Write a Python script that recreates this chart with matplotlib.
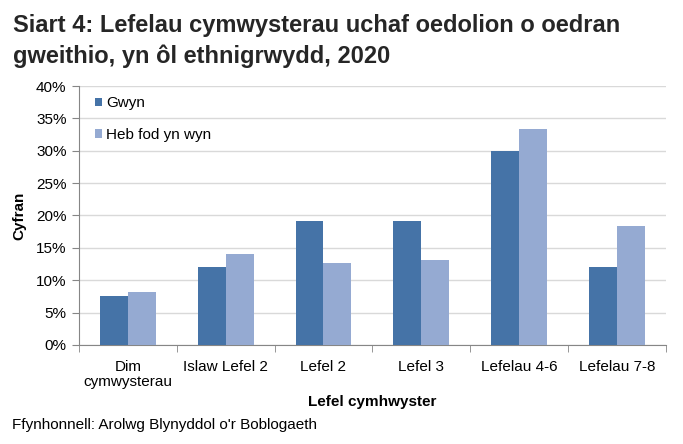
import numpy as np
import matplotlib
matplotlib.use("Agg")
import matplotlib.pyplot as plt
from matplotlib.ticker import FuncFormatter, FixedLocator

plt.rcParams['font.family'] = ['Liberation Sans', 'DejaVu Sans']

# data
categories = ["Dim\ncymwysterau", "Islaw Lefel 2", "Lefel 2", "Lefel 3",
              "Lefelau 4-6", "Lefelau 7-8"]
gwyn = [7.6, 12.0, 19.1, 19.1, 29.9, 12.1]
heb_fod_yn_wyn = [8.2, 14.1, 12.7, 13.1, 33.4, 18.4]
series_names = ["Gwyn", "Heb fod yn wyn"]

col_gwyn = "#4573A7"
col_heb = "#95AAD2"
grey = "#868686"
fs = 11

fig = plt.figure(figsize=(6.83, 4.44), dpi=100)
ax = fig.add_axes([0.1157, 0.223, 0.859, 0.5833])

x = np.arange(len(categories))
w = 0.285
ax.bar(x - w / 2, gwyn, w, color=col_gwyn, label=series_names[0], zorder=3)
ax.bar(x + w / 2, heb_fod_yn_wyn, w, color=col_heb, label=series_names[1], zorder=3)

ax.set_xlim(-0.5, len(categories) - 0.5)
ax.set_ylim(0, 40)
ax.set_yticks(np.arange(0, 41, 5))
ax.yaxis.set_major_formatter(FuncFormatter(lambda v, p: "%d%%" % v))
ax.grid(axis='y', color="#D9D9D9", linewidth=1, zorder=0)

# category labels centred, ticks on the boundaries
ax.set_xticks(x)
ax.set_xticklabels(categories, fontsize=fs)
for lab in ax.get_xticklabels():
    lab.set_linespacing(1.1)
ax.tick_params(axis='x', which='major', length=0, pad=11)
ax.xaxis.set_minor_locator(FixedLocator(np.arange(-0.5, len(categories), 1)))
ax.tick_params(axis='x', which='minor', length=5, color=grey)
ax.tick_params(axis='y', length=5, color=grey, labelsize=fs, pad=4)

for s in ['top', 'right']:
    ax.spines[s].set_visible(False)
for s in ['left', 'bottom']:
    ax.spines[s].set_color(grey)

ax.set_ylabel("Cyfran", fontsize=fs, fontweight='bold')
ax.yaxis.set_label_coords(-0.09, 0.5)
ax.set_xlabel("Lefel cymhwyster", fontsize=fs, fontweight='bold', labelpad=4)

leg = ax.legend(loc='upper left', bbox_to_anchor=(0.027, 0.96), frameon=False,
                fontsize=fs, handlelength=0.46, handleheight=0.46,
                handletextpad=0.3, labelspacing=1.15, borderaxespad=0,
                borderpad=0)

fig.text(0.019, 0.9286, "Siart 4: Lefelau cymwysterau uchaf oedolion o oedran",
         fontsize=17, fontweight='bold', va='baseline', ha='left', color="#262626")
fig.text(0.019, 0.858, "gweithio, yn ôl ethnigrwydd, 2020",
         fontsize=17, fontweight='bold', va='baseline', ha='left', color="#262626")
fig.text(0.018, 0.0335, "Ffynhonnell: Arolwg Blynyddol o'r Boblogaeth",
         fontsize=fs, va='baseline', ha='left')

plt.savefig("out.png", dpi=100)
